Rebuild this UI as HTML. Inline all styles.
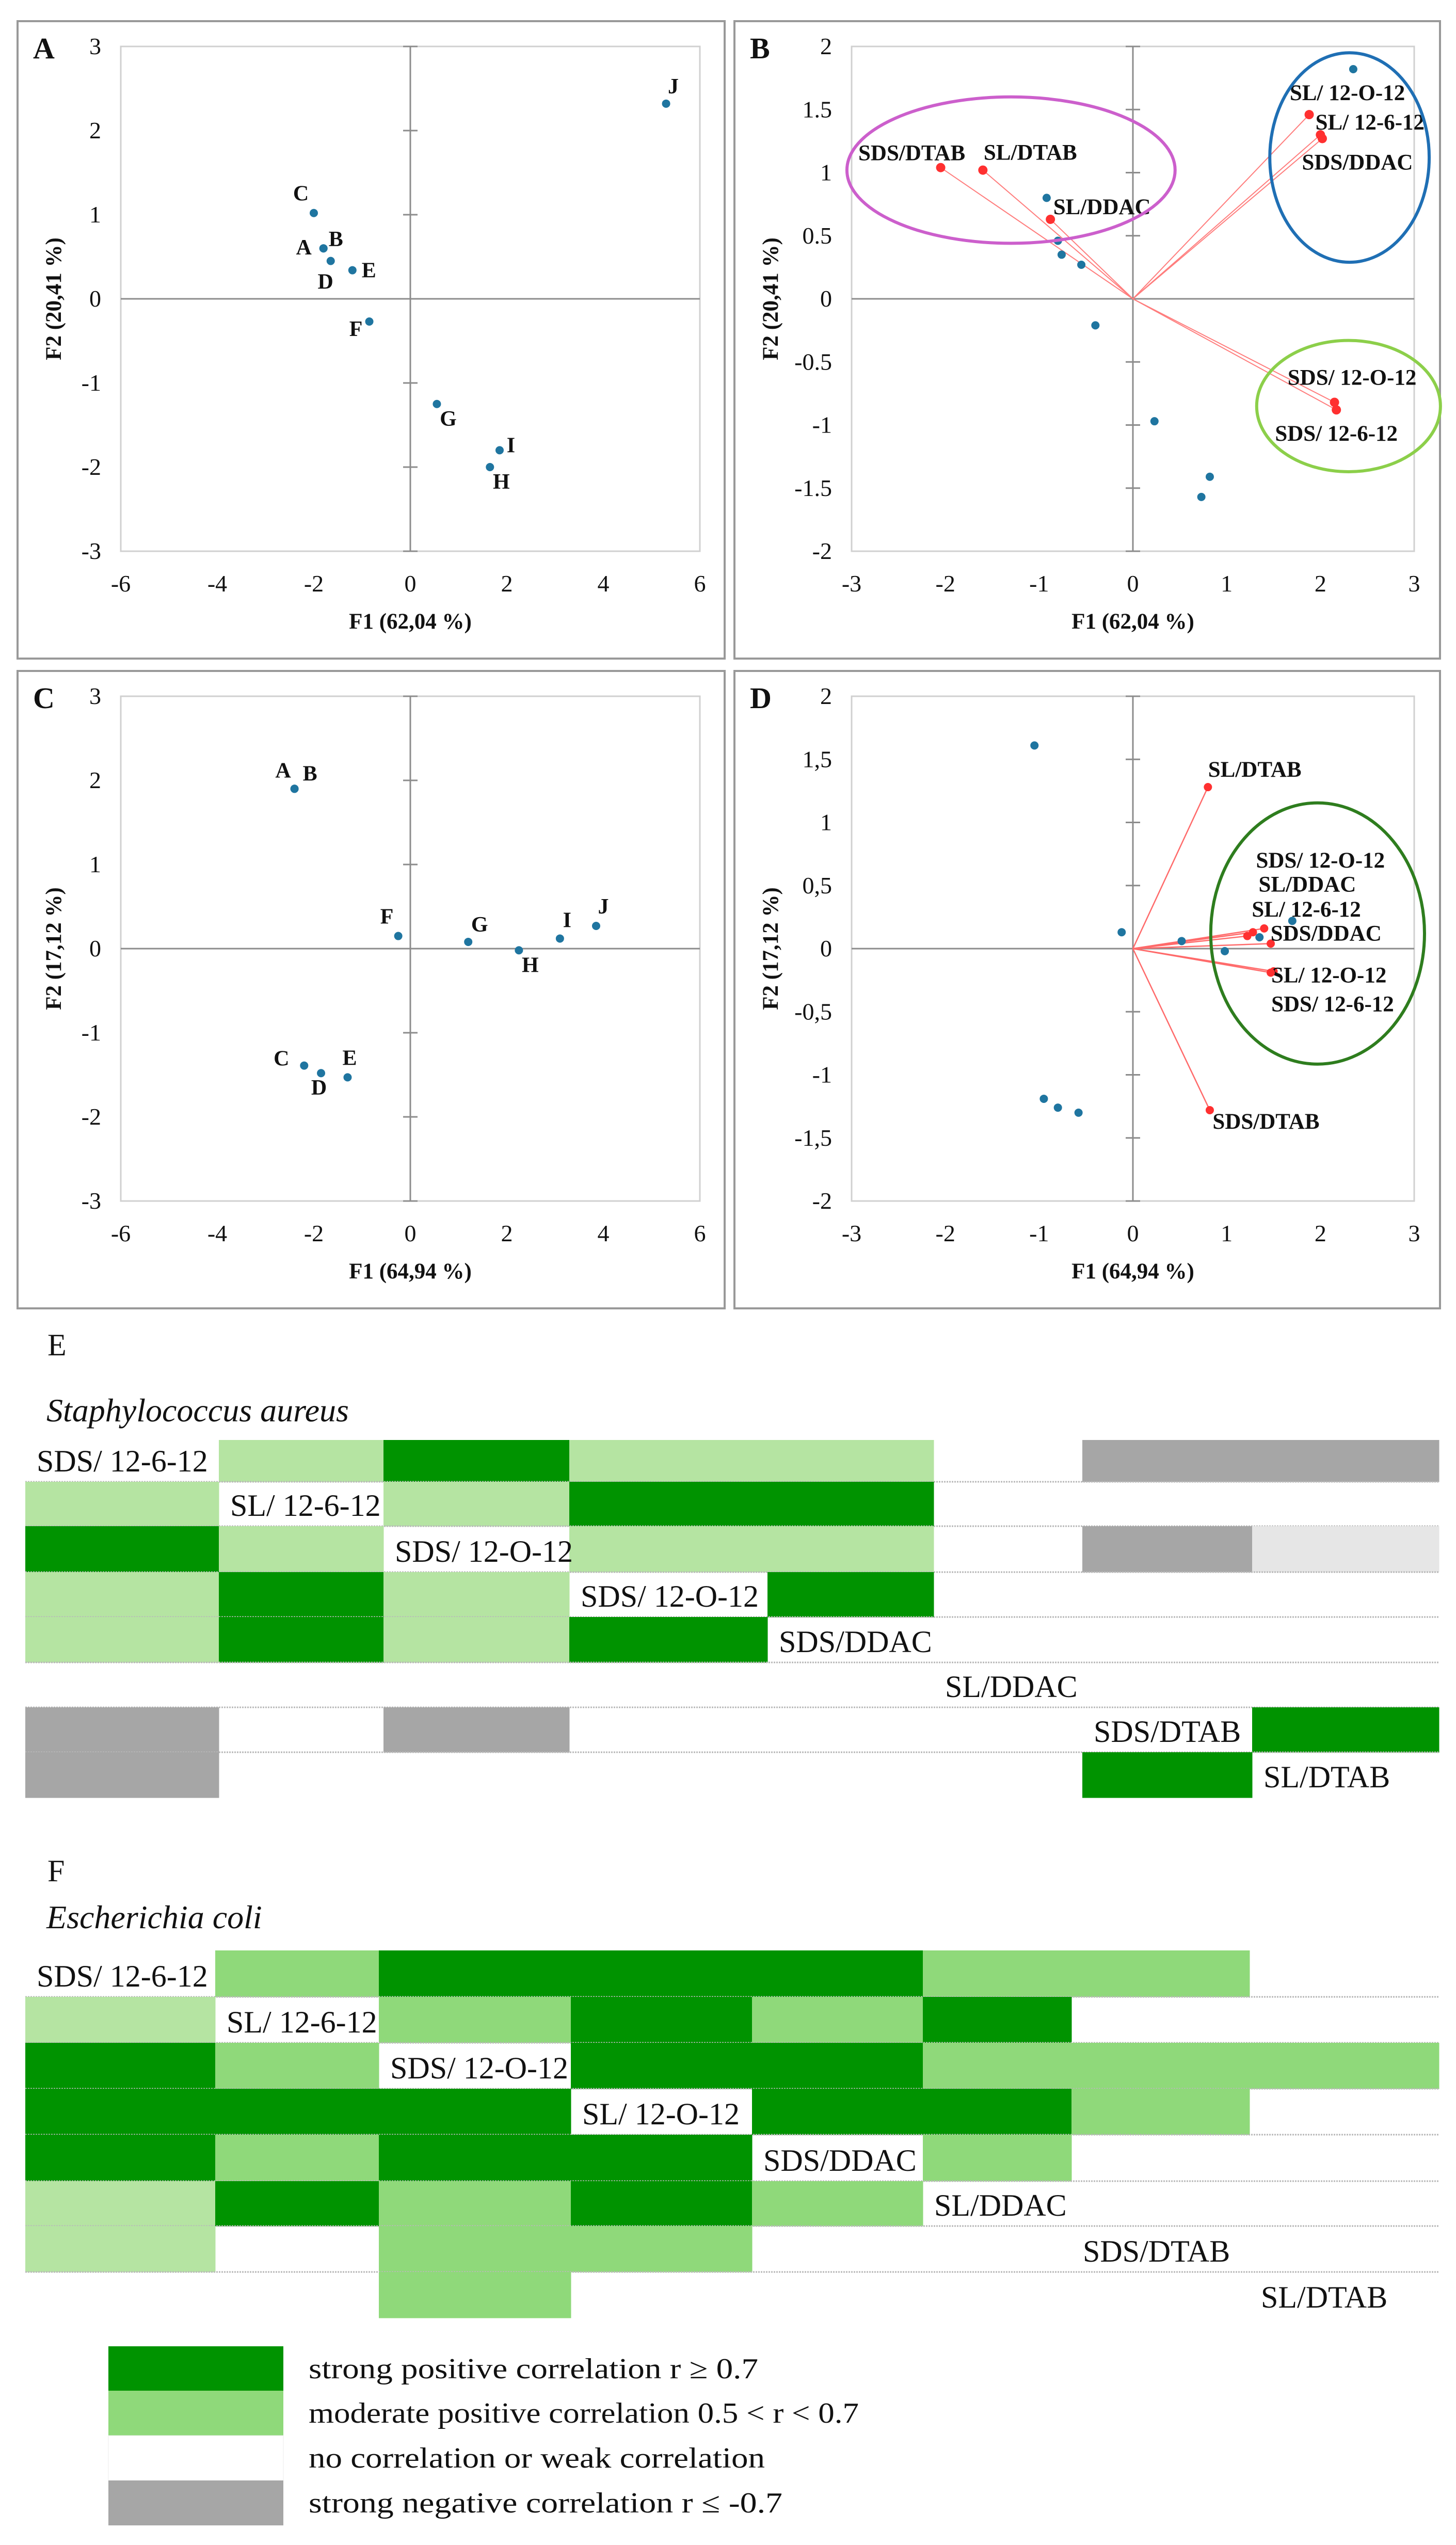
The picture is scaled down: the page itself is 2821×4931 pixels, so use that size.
<!DOCTYPE html>
<html><head><meta charset="utf-8"><title>PCA biplots and correlation maps</title>
<style>
html,body{margin:0;padding:0;background:#fff;}
svg{display:block;}
text{font-family:"Liberation Serif",serif;fill:#111;}
</style></head>
<body>
<svg id="fig" xmlns="http://www.w3.org/2000/svg" width="2821" height="4931" viewBox="0 0 2821 4931"></svg>
<script>
// ===== Panel A data (F1 62,04 %, F2 20,41 %) =====
const aLabels = ['C','A','B','D','E','F','G','I','H','J'];
const aX = [-2.0,-1.8,-1.8,-1.65,-1.2,-0.85,0.55,1.85,1.65,5.3];
const aY = [1.02,0.6,0.6,0.45,0.34,-0.27,-1.25,-1.8,-2.0,2.32];
const aOff = [[-25,-38],[-38,-2],[24,-18],[-10,40],[32,0],[-26,14],[22,28],[22,-10],[22,28],[14,-34]];
const aXTicks = [-6,-4,-2,0,2,4,6];
const aYTicks = [-3,-2,-1,0,1,2,3];

// ===== Panel B data =====
const bObsX = [2.35,-0.92,-0.8,-0.76,-0.55,-0.4,0.23,0.82,0.73];
const bObsY = [1.82,0.8,0.46,0.35,0.27,-0.21,-0.97,-1.41,-1.57];
const bVarNames = ['SDS/DTAB','SL/DTAB','SL/DDAC','SL/ 12-O-12','SL/ 12-6-12','SDS/DDAC','SDS/ 12-O-12','SDS/ 12-6-12'];
const bVarX = [-2.05,-1.6,-0.88,1.88,2.0,2.02,2.15,2.17];
const bVarY = [1.04,1.02,0.63,1.46,1.3,1.27,-0.82,-0.88];
const bOff = [[-56,-28],[92,-34],[100,-24],[74,-42],[96,-24],[68,46],[34,-48],[0,46]];
const bXTicks = [-3,-2,-1,0,1,2,3];
const bYTicks = [-2,-1.5,-1,-0.5,0,0.5,1,1.5,2];
const bYTickText = ['-2','-1.5','-1','-0.5','0','0.5','1','1.5','2'];

// ===== Panel C data (F1 64,94 %, F2 17,12 %) =====
const cLabels = ['A','B','F','G','H','I','J','C','D','E'];
const cX = [-2.4,-2.4,-0.25,1.2,2.25,3.1,3.85,-2.2,-1.85,-1.3];
const cY = [1.9,1.9,0.15,0.08,-0.02,0.12,0.27,-1.39,-1.48,-1.53];
const cOff = [[-22,-36],[30,-30],[-22,-38],[22,-34],[22,28],[14,-36],[14,-38],[-44,-14],[-4,28],[4,-38]];

// ===== Panel D data =====
const dObsX = [-1.05,-0.12,0.52,0.98,1.35,1.7,-0.95,-0.8,-0.58];
const dObsY = [1.61,0.13,0.06,-0.02,0.09,0.22,-1.19,-1.26,-1.3];
const dVarNames = ['SL/DTAB','SDS/DTAB','SDS/ 12-O-12','SL/DDAC','SL/ 12-6-12','SDS/DDAC','SL/ 12-O-12','SDS/ 12-6-12'];
const dVarX = [0.8,0.82,1.4,1.28,1.22,1.47,1.5,1.47];
const dVarY = [1.28,-1.28,0.16,0.13,0.1,0.04,-0.18,-0.19];
const dLabX = [1.3,1.42,2.0,1.86,1.85,2.06,2.09,2.13];
const dLabY = [1.42,-1.37,0.70,0.51,0.31,0.12,-0.21,-0.44];
const dYTicks = [-2,-1.5,-1,-0.5,0,0.5,1,1.5,2];
const dYTickText = ['-2','-1,5','-1','-0,5','0','0,5','1','1,5','2'];

// ===== Heatmap E (S. aureus) =====  codes: D strong, L light, M moderate, G grey (neg), g light grey, W white, X label
const eNames = ['SDS/ 12-6-12','SL/ 12-6-12','SDS/ 12-O-12','SDS/ 12-O-12','SDS/DDAC','SL/DDAC','SDS/DTAB','SL/DTAB'];
const eRow0 = ['X','L','D','L','L','W','G','G'];
const eRow1 = ['L','X','L','D','D','W','W','W'];
const eRow2 = ['D','L','X','L','L','W','G','g'];
const eRow3 = ['L','D','L','X','D','W','W','W'];
const eRow4 = ['L','D','L','D','X','W','W','W'];
const eRow5 = ['W','W','W','W','W','X','W','W'];
const eRow6 = ['G','W','G','W','W','W','X','D'];
const eRow7 = ['G','W','W','W','W','W','D','X'];

// ===== Heatmap F (E. coli) =====
const fNames = ['SDS/ 12-6-12','SL/ 12-6-12','SDS/ 12-O-12','SL/ 12-O-12','SDS/DDAC','SL/DDAC','SDS/DTAB','SL/DTAB'];
const fRow0 = ['X','M','D','D','D','M','M','W'];
const fRow1 = ['L','X','M','D','M','D','W','W'];
const fRow2 = ['D','M','X','D','D','M','M','M'];
const fRow3 = ['D','D','D','X','D','D','M','W'];
const fRow4 = ['D','M','D','D','X','M','W','W'];
const fRow5 = ['L','D','M','D','M','X','W','W'];
const fRow6 = ['L','W','M','M','W','W','X','W'];
const fRow7 = ['W','W','M','W','W','W','W','X'];

const legendText = ['strong positive correlation  r \u2265 0.7','moderate positive correlation 0.5 < r < 0.7','no correlation or weak correlation','strong negative correlation  r \u2264 -0.7'];
const legendCodes = ['D','M','W','G'];
const legendWidths = [871,1066,884,918];

// ---------- helpers ----------
const NS='http://www.w3.org/2000/svg';
const svg=document.getElementById('fig');
function mk(tag,attrs,parent){const e=document.createElementNS(NS,tag);for(const k in attrs)e.setAttribute(k,attrs[k]);(parent||svg).appendChild(e);return e;}
function txt(s,attrs,parent){const e=mk('text',attrs,parent);e.textContent=s;return e;}
const COL={D:'#009300',L:'#b5e4a2',M:'#8fd97a',G:'#a6a6a6',g:'#e6e6e6',W:'#ffffff'};

function panel(cfg){
  const g=mk('g',{});
  
  
  const box=mk('rect',{x:cfg.bx,y:cfg.by,width:cfg.bw,height:cfg.bh,fill:'#fff',stroke:'#999','stroke-width':4},g);
  
  
  const sx=v=>cfg.px+(v-cfg.xmin)/(cfg.xmax-cfg.xmin)*cfg.pw;
  const sy=v=>cfg.py+(cfg.ymax-v)/(cfg.ymax-cfg.ymin)*cfg.ph;
  const frame=mk('rect',{x:cfg.px,y:cfg.py,width:cfg.pw,height:cfg.ph,fill:'none',stroke:'#d0d0d0','stroke-width':3},g);
  
  
  const xa=mk('line',{x1:cfg.px,x2:cfg.px+cfg.pw,y1:sy(0),y2:sy(0),stroke:'#8c8c8c','stroke-width':3},g);
  
  
  const ya=mk('line',{x1:sx(0),x2:sx(0),y1:cfg.py,y2:cfg.py+cfg.ph,stroke:'#8c8c8c','stroke-width':3},g);
  
  
  cfg.yt.forEach((v,i)=>{
    const tk=mk('line',{x1:sx(0)-14,x2:sx(0)+14,y1:sy(v),y2:sy(v),stroke:'#8c8c8c','stroke-width':3},g);
    
    
    const t=txt(cfg.ytt[i],{x:cfg.px-38,y:sy(v)+15,'text-anchor':'end','font-size':46},g);
    
    
  });
  cfg.xt.forEach(v=>{
    const t=txt(String(v),{x:sx(v),y:cfg.py+cfg.ph+78,'text-anchor':'middle','font-size':46},g);
    
    
  });
  const xt=txt(cfg.xTitle,{x:sx(0),y:cfg.py+cfg.ph+150,'text-anchor':'middle','font-size':43,'font-weight':'bold'},g);
  
  
  const ytx=cfg.bx+84, yty=cfg.py+cfg.ph/2;
  const yt=txt(cfg.yTitle,{x:ytx,y:yty,'text-anchor':'middle','font-size':43,'font-weight':'bold',transform:'rotate(-90 '+ytx+' '+yty+')'},g);
  
  
  const L=txt(cfg.letter,{x:cfg.bx+30,y:cfg.by+72,'font-size':58,'font-weight':'bold'},g);
  
  
  return {g,sx,sy};
}

function obsPanel(cfg,xs,ys,labels,offs){
  const p=panel(cfg);
  xs.forEach((x,i)=>{
    const c=mk('circle',{cx:p.sx(x),cy:p.sy(ys[i]),r:8,fill:'#1f75a0'},p.g);
    
    
    const t=txt(labels[i],{x:p.sx(x)+offs[i][0],y:p.sy(ys[i])+offs[i][1]+14,'text-anchor':'middle','font-size':42,'font-weight':'bold'},p.g);
    
    
  });
}

const plotA={bx:34,by:41,bw:1370,bh:1235,px:234,py:90,pw:1122,ph:978,xmin:-6,xmax:6,ymin:-3,ymax:3,xt:aXTicks,yt:aYTicks,ytt:aYTicks.map(String)};
const plotB={bx:1423,by:41,bw:1367,bh:1235,px:1650,py:90,pw:1090,ph:978,xmin:-3,xmax:3,ymin:-2,ymax:2,xt:bXTicks,yt:bYTicks,ytt:bYTickText};

obsPanel(Object.assign({},plotA,{name:'panel-a-observations',letter:'A',xTitle:'F1 (62,04 %)',yTitle:'F2 (20,41 %)'}),aX,aY,aLabels,aOff);

// Panel B biplot
(function(){
  const p=panel(Object.assign({},plotB,{name:'panel-b-biplot',letter:'B',xTitle:'F1 (62,04 %)',yTitle:'F2 (20,41 %)'}));
  const ells=[[-1.3,1.02,1.75,0.58,'#cc5fcc','magenta-cluster-ellipse'],[2.31,1.12,0.85,0.83,'#1f6fb4','blue-cluster-ellipse'],[2.3,-0.85,0.98,0.52,'#8ccf4a','green-cluster-ellipse']];
  bVarX.forEach((x,i)=>{
    const l=mk('line',{x1:p.sx(0),y1:p.sy(0),x2:p.sx(x),y2:p.sy(bVarY[i]),stroke:'#ff7d7d','stroke-width':2},p.g);
    
    
  });
  bObsX.forEach((x,i)=>{
    const c=mk('circle',{cx:p.sx(x),cy:p.sy(bObsY[i]),r:8,fill:'#1f75a0'},p.g);
    
    
  });
  bVarX.forEach((x,i)=>{
    const c=mk('circle',{cx:p.sx(x),cy:p.sy(bVarY[i]),r:9,fill:'#ff3030'},p.g);
    
    
    const t=txt(bVarNames[i],{x:p.sx(x)+bOff[i][0],y:p.sy(bVarY[i])+bOff[i][1]+14,'text-anchor':'middle','font-size':43,'font-weight':'bold'},p.g);
    
    
  });
  const ux=plotB.pw/6, uy=plotB.ph/4;
  ells.forEach(e=>{
    const el=mk('ellipse',{cx:p.sx(e[0]),cy:p.sy(e[1]),rx:e[2]*ux,ry:e[3]*uy,fill:'none',stroke:e[4],'stroke-width':6},p.g);
    
    
  });
})();

const plotC=Object.assign({},plotA,{by:1300,py:1349});
obsPanel(Object.assign({},plotC,{name:'panel-c-observations',letter:'C',xTitle:'F1 (64,94 %)',yTitle:'F2 (17,12 %)'}),cX,cY,cLabels,cOff);

// Panel D biplot
(function(){
  const cfg=Object.assign({},plotB,{by:1300,py:1349,ytt:dYTickText,yt:dYTicks,name:'panel-d-biplot',letter:'D',xTitle:'F1 (64,94 %)',yTitle:'F2 (17,12 %)'});
  const p=panel(cfg);
  dVarX.forEach((x,i)=>{
    const l=mk('line',{x1:p.sx(0),y1:p.sy(0),x2:p.sx(x),y2:p.sy(dVarY[i]),stroke:'#ff6a6a','stroke-width':2.5},p.g);
    
    
  });
  dObsX.forEach((x,i)=>{
    const c=mk('circle',{cx:p.sx(x),cy:p.sy(dObsY[i]),r:8,fill:'#1f75a0'},p.g);
    
    
  });
  dVarX.forEach((x,i)=>{
    const c=mk('circle',{cx:p.sx(x),cy:p.sy(dVarY[i]),r:8,fill:'#ff3030'},p.g);
    
    
    const t=txt(dVarNames[i],{x:p.sx(dLabX[i]),y:p.sy(dLabY[i])+14,'text-anchor':'middle','font-size':43,'font-weight':'bold'},p.g);
    
    
  });
  const ux=cfg.pw/6, uy=cfg.ph/4;
  const el=mk('ellipse',{cx:p.sx(1.97),cy:p.sy(0.12),rx:1.14*ux,ry:1.035*uy,fill:'none',stroke:'#2e7d1e','stroke-width':6},p.g);
  
  
})();

// ---------- heatmaps ----------
function heatmap(name,letter,species,letterY,speciesY,rowEdges,colEdges,rows,names){
  const g=mk('g',{});
  
  
  const L=txt(letter,{x:92,y:letterY,'font-size':60},g);
  
  
  const S=txt(species,{x:90,y:speciesY,'font-size':64,'font-style':'italic'},g);
  
  
  rows.forEach((row,i)=>{
    row.forEach((c,j)=>{
      if(c==='X'||c==='W')return;
      const r=mk('rect',{x:colEdges[j],y:rowEdges[i],width:colEdges[j+1]-colEdges[j]+0.5,height:rowEdges[i+1]-rowEdges[i]+0.5,fill:COL[c]},g);
      
      
    });
    const t=txt(names[i],{x:colEdges[i]+22,y:rowEdges[i+1]-20,'font-size':60},g);
    
    
    if(i<rows.length-1){
      const ln=mk('line',{x1:colEdges[0],x2:colEdges[colEdges.length-1],y1:rowEdges[i+1],y2:rowEdges[i+1],stroke:'#b8b8b8','stroke-width':3,'stroke-dasharray':'3 2'},g);
      
      
    }
  });
}
heatmap('heatmap-e-staphylococcus','E','Staphylococcus aureus',2626,2754,
  [2790,2871,2957,3046,3133,3221,3308,3395,3483],[49,424,743,1103,1487,1809,2097,2426,2788],
  [eRow0,eRow1,eRow2,eRow3,eRow4,eRow5,eRow6,eRow7],eNames);
heatmap('heatmap-f-escherichia','F','Escherichia coli',3645,3736,
  [3779,3869,3958,4047,4136,4226,4313,4402,4491],[49,417,734,1106,1457,1788,2076,2421,2788],
  [fRow0,fRow1,fRow2,fRow3,fRow4,fRow5,fRow6,fRow7],fNames);

// ---------- legend ----------
(function(){
  const g=mk('g',{});
  
  
  const tops=[4546,4632,4719,4806,4893];
  legendCodes.forEach((c,i)=>{
    const r=mk('rect',{x:210,y:tops[i],width:339,height:tops[i+1]-tops[i],fill:COL[c],stroke:c==='W'?'#eee':'none'},g);
    
    
    const t=txt(legendText[i],{x:598,y:tops[i]+62,'font-size':56,fill:'#222',textLength:legendWidths[i],lengthAdjust:'spacingAndGlyphs'},g);
    
    
  });
})();
</script>
</body></html>
